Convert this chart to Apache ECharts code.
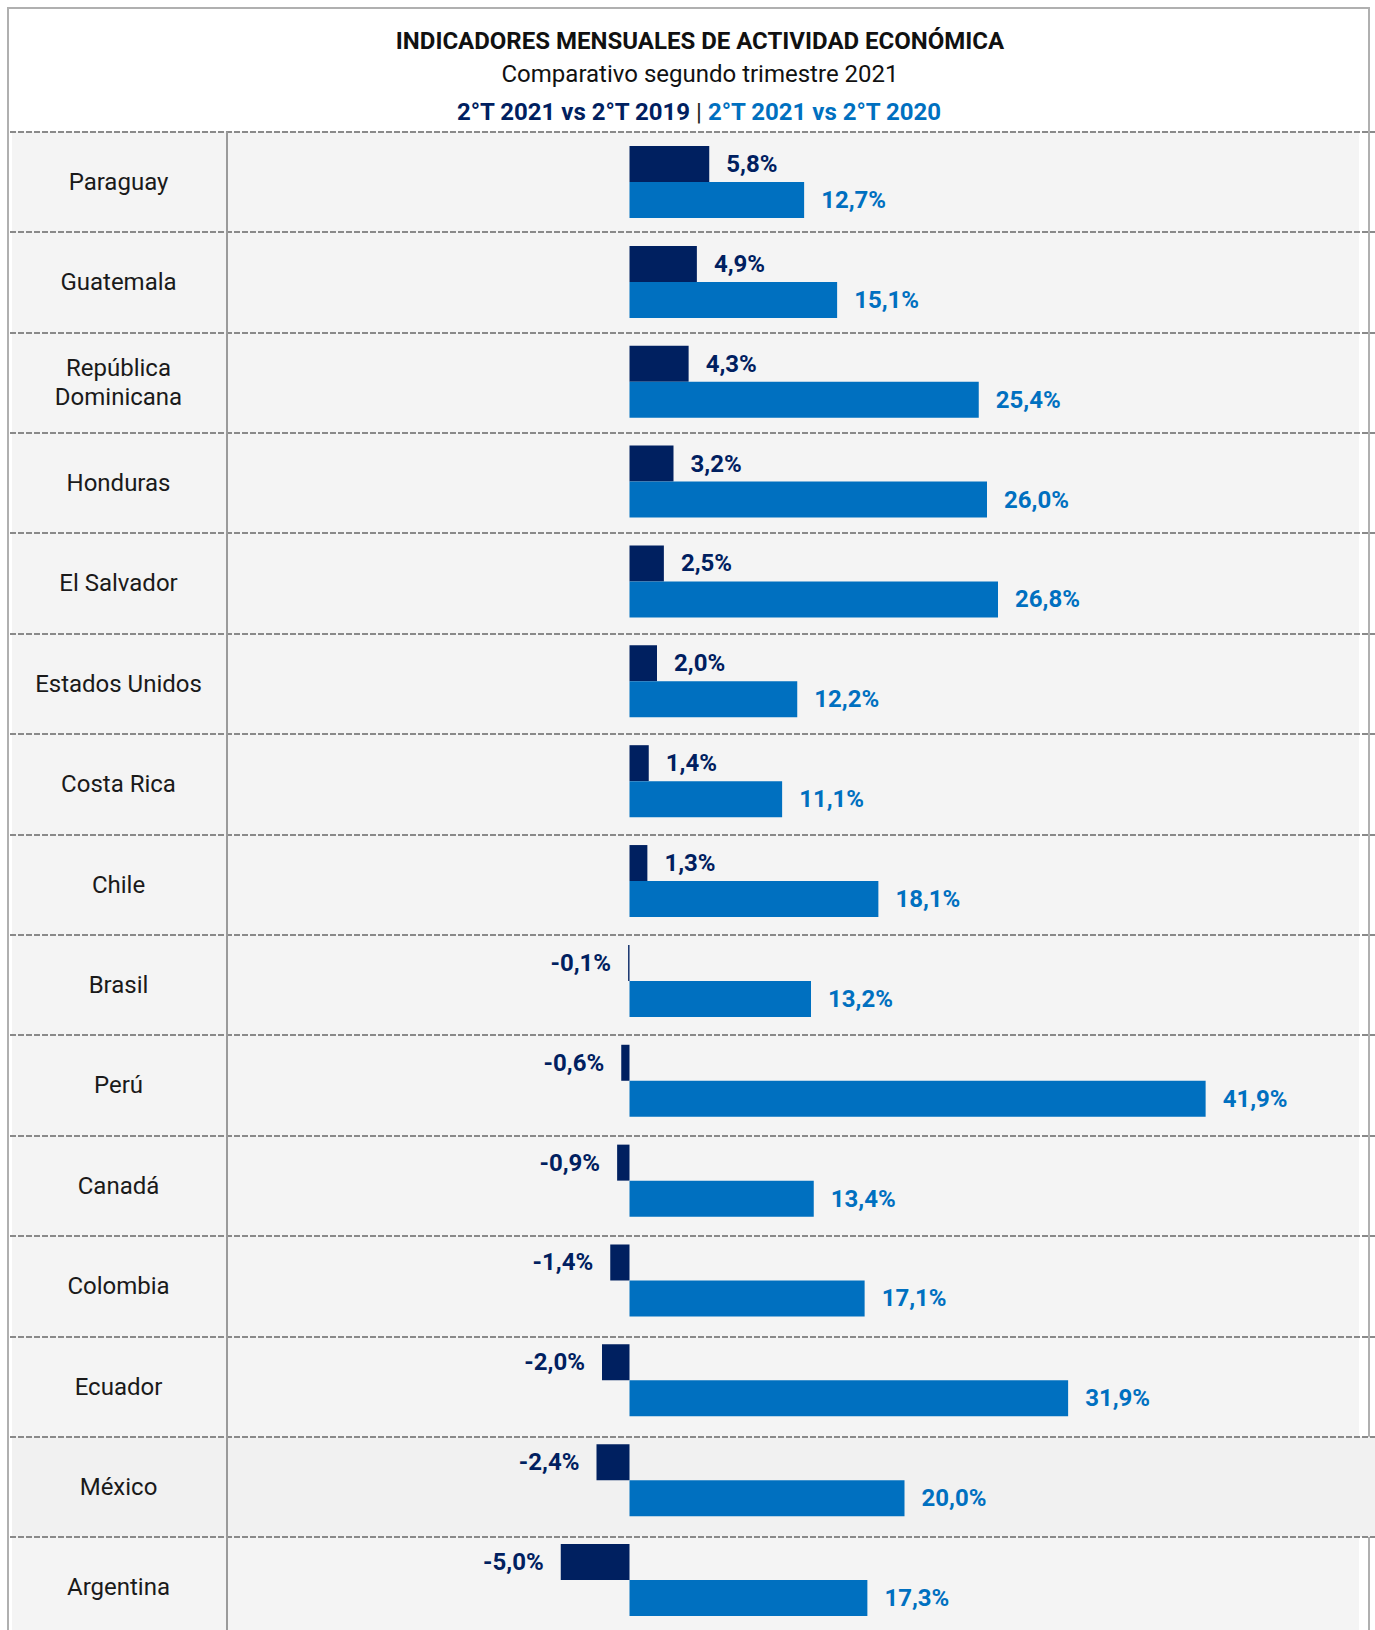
<!DOCTYPE html>
<html>
<head>
<meta charset="utf-8">
<script src="https://cdn.jsdelivr.net/npm/echarts@6/dist/echarts.min.js"></script>
<style>
html,body{margin:0;padding:0;background:#fff;overflow:hidden;}
#chart{width:1375px;height:1700px;}
</style>
</head>
<body>
<div id="chart"></div>
<script>
const countries = ['Paraguay','Guatemala','República\nDominicana','Honduras','El Salvador','Estados Unidos','Costa Rica','Chile','Brasil','Perú','Canadá','Colombia','Ecuador','México','Argentina'];
const vs2019 = [5.8, 4.9, 4.3, 3.2, 2.5, 2.0, 1.4, 1.3, -0.1, -0.6, -0.9, -1.4, -2.0, -2.4, -5.0];
const vs2020 = [12.7, 15.1, 25.4, 26.0, 26.8, 12.2, 11.1, 18.1, 13.2, 41.9, 13.4, 17.1, 31.9, 20.0, 17.3];
const titleText = 'INDICADORES MENSUALES DE ACTIVIDAD ECONÓMICA';
const subtitleText = 'Comparativo segundo trimestre 2021';
const legend2019 = '2°T 2021 vs 2°T 2019';
const legend2020 = '2°T 2021 vs 2°T 2020';

const DARK = '#002060';
const BLUE = '#0070c0';
const FONT = 'Roboto';

const fmt = v => v.toFixed(1).replace('.', ',') + '%';

const chart = echarts.init(document.getElementById('chart'), null, {renderer: 'svg'});

// table layer (row labels + separators)
const tableTop = 131.5, rowH = 100.4;
// bar layer
const barTop = 132.1, barBand = 99.86;
const gridLeft = 10, zeroX = 629.5, pxPerUnit = 13.75;
const gridWidth = 1375 - gridLeft;
const xMin = -(zeroX - gridLeft) / pxPerUnit;
const xMax = (1375 - zeroX) / pxPerUnit;

const option = {
  backgroundColor: '#ffffff',
  animation: false,
  textStyle: {fontFamily: FONT},
  grid: [
    {left: gridLeft, top: tableTop, width: gridWidth, height: rowH * countries.length, containLabel: false},
    {left: gridLeft, top: barTop, width: gridWidth, height: barBand * countries.length, containLabel: false}
  ],
  xAxis: [
    {gridIndex: 0, type: 'value', min: xMin, max: xMax,
     axisLine: {show: false}, axisTick: {show: false}, axisLabel: {show: false}, splitLine: {show: false}},
    {gridIndex: 1, type: 'value', min: xMin, max: xMax,
     axisLine: {show: false}, axisTick: {show: false}, axisLabel: {show: false}, splitLine: {show: false}}
  ],
  yAxis: [
    {
      gridIndex: 0, type: 'category', inverse: true, data: countries,
      axisLine: {show: false}, axisTick: {show: false},
      axisLabel: {
        inside: true, align: 'center', margin: 108.5, padding: [4, 0, 0, 0],
        fontFamily: FONT, fontSize: 24, color: '#1a1a1a', lineHeight: 29
      },
      splitLine: {show: true, lineStyle: {color: '#8a8a8a', width: 2, type: [6, 2]}}
    },
    {
      gridIndex: 1, type: 'category', inverse: true, data: countries,
      axisLine: {show: false}, axisTick: {show: false}, axisLabel: {show: false}, splitLine: {show: false}
    }
  ],
  graphic: [
    {type: 'rect', id: 'frame', z: -3, shape: {x: 8, y: 8, width: 1361, height: 1700},
     style: {fill: '#ffffff', stroke: '#b0b0b0', lineWidth: 2}},
    {type: 'rect', id: 'rowsBg', z: -2, shape: {x: 12, y: tableTop, width: 1347, height: 1560},
     style: {fill: '#f4f4f4'}},
    {type: 'line', id: 'vline', z: 5, shape: {x1: 227, y1: tableTop, x2: 227, y2: 1700},
     style: {stroke: '#9a9a9a', lineWidth: 2}},
    {type: 'text', id: 't1', x: 700, y: 41,
     style: {text: titleText, font: 'bold 24px ' + FONT, fill: '#111', align: 'center', verticalAlign: 'middle'}},
    {type: 'text', id: 't2', x: 700, y: 74,
     style: {text: subtitleText, font: '24px ' + FONT, fill: '#111', align: 'center', verticalAlign: 'middle'}},
    {type: 'text', id: 't3', x: 699, y: 112,
     style: {
       text: '{a|' + legend2019 + '} {s||} {b|' + legend2020 + '}',
       align: 'center', verticalAlign: 'middle',
       rich: {
         a: {fontFamily: FONT, fontWeight: 'bold', fontSize: 24, fill: DARK, color: DARK},
         s: {fontFamily: FONT, fontSize: 24, fill: '#222', color: '#222', padding: [0, 2]},
         b: {fontFamily: FONT, fontWeight: 'bold', fontSize: 24, fill: BLUE, color: BLUE}
       }
     }}
  ],
  series: [
    {
      name: legend2019, type: 'bar', xAxisIndex: 1, yAxisIndex: 1, barWidth: 36, barGap: '0%',
      itemStyle: {color: DARK},
      data: vs2019.map(v => ({value: v, label: {position: v < 0 ? 'left' : 'right'}})),
      label: {show: true, distance: 17, color: DARK, fontFamily: FONT, fontWeight: 'bold', fontSize: 24,
              padding: [3, 0, 0, 0], formatter: p => fmt(p.value)}
    },
    {
      name: legend2020, type: 'bar', xAxisIndex: 1, yAxisIndex: 1, barWidth: 36, barGap: '0%',
      itemStyle: {color: BLUE},
      data: vs2020,
      label: {show: true, position: 'right', distance: 17, color: BLUE, fontFamily: FONT, fontWeight: 'bold', fontSize: 24,
              formatter: p => fmt(p.value)}
    }
  ]
};
chart.setOption(option);

// darker band for México row
const mxY = chart.convertToPixel({yAxisIndex: 0}, 'México');
chart.setOption({graphic: [
  {type: 'rect', id: 'mxBg', z: -1, shape: {x: 12, y: mxY - rowH / 2, width: 1363, height: rowH},
   style: {fill: '#f1f1f1'}}
]});
</script>
</body>
</html>
